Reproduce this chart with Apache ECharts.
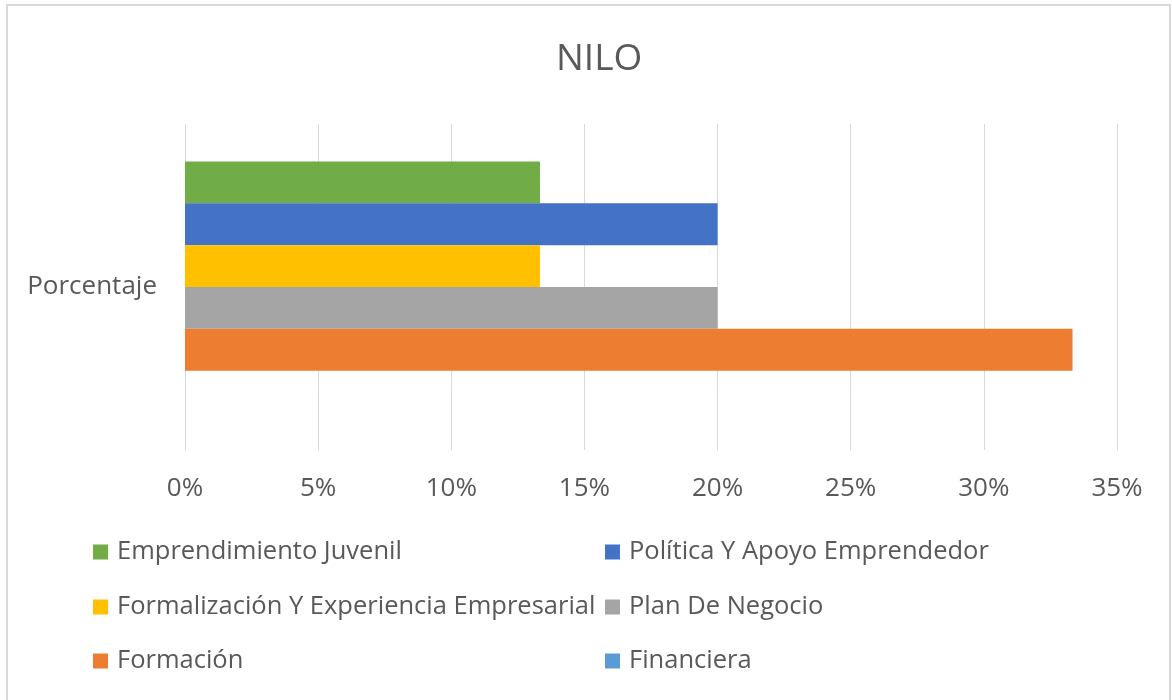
<!DOCTYPE html>
<html>
<head>
<meta charset="utf-8">
<script src="https://cdn.jsdelivr.net/npm/echarts@6/dist/echarts.min.js"></script>
<style>html,body{margin:0;padding:0;background:#fff}#c{width:1172px;height:700px}</style>
</head>
<body>
<div id="c"></div>
<script>
const categories = ['Porcentaje'];
// series listed top-to-bottom as drawn
const seriesNames = ['Emprendimiento Juvenil', 'Política Y Apoyo Emprendedor', 'Formalización Y Experiencia Empresarial', 'Plan De Negocio', 'Formación', 'Financiera'];
const seriesValues = [13.33, 20, 13.33, 20, 33.33, 0];
const seriesColors = ['#70AD47', '#4472C4', '#FFC000', '#A5A5A5', '#ED7D31', '#5B9BD5'];
const xTicks = [0, 5, 10, 15, 20, 25, 30, 35];

const legendLayout = [
  ['Emprendimiento Juvenil', 93, 552],
  ['Política Y Apoyo Emprendedor', 605, 552],
  ['Formalización Y Experiencia Empresarial', 93, 607],
  ['Plan De Negocio', 605, 607],
  ['Formación', 93, 661],
  ['Financiera', 605, 661]
];
const FONT = 'Open Sans';
const chart = echarts.init(document.getElementById('c'));
chart.setOption({
  animation: false,
  textStyle: { fontFamily: FONT },
  title: {
    text: 'NILO', left: 551, top: 36,
    textStyle: { fontFamily: FONT, fontSize: 37, fontWeight: 'normal', color: '#595959' }
  },
  graphic: [{
    type: 'rect', shape: { x: 7, y: 5, width: 1163, height: 710 },
    style: { fill: null, stroke: '#d9d9d9', lineWidth: 2 }, silent: true
  }],
  grid: { left: 185, right: 55, top: 124, bottom: 250 },
  xAxis: {
    type: 'value', min: xTicks[0], max: xTicks[xTicks.length - 1], interval: 5,
    axisLine: { show: false }, axisTick: { show: false },
    splitLine: { show: true, lineStyle: { color: '#d9d9d9', width: 1 } },
    axisLabel: { formatter: v => v + '%', color: '#595959', fontSize: 26, margin: 26, fontFamily: FONT }
  },
  yAxis: {
    type: 'category', data: categories,
    axisLine: { show: false }, axisTick: { show: false },
    axisLabel: { color: '#595959', fontSize: 26, margin: 28, fontFamily: FONT }
  },
  legend: legendLayout.map(([name, x, y]) => ({
    data: [name], left: x, top: y - 15, itemWidth: 15, itemHeight: 15,
    icon: 'rect', padding: 0,
    textStyle: { color: '#595959', fontSize: 25.5, lineHeight: 30, padding: [0, 0, 0, 4], fontFamily: FONT }
  })),
  series: seriesNames.map((n, i) => ({
    name: n, type: 'bar', data: [seriesValues[i]],
    barGap: '0%', barCategoryGap: '23%',
    itemStyle: { color: seriesColors[i] }
  }))
});
</script>
</body>
</html>
